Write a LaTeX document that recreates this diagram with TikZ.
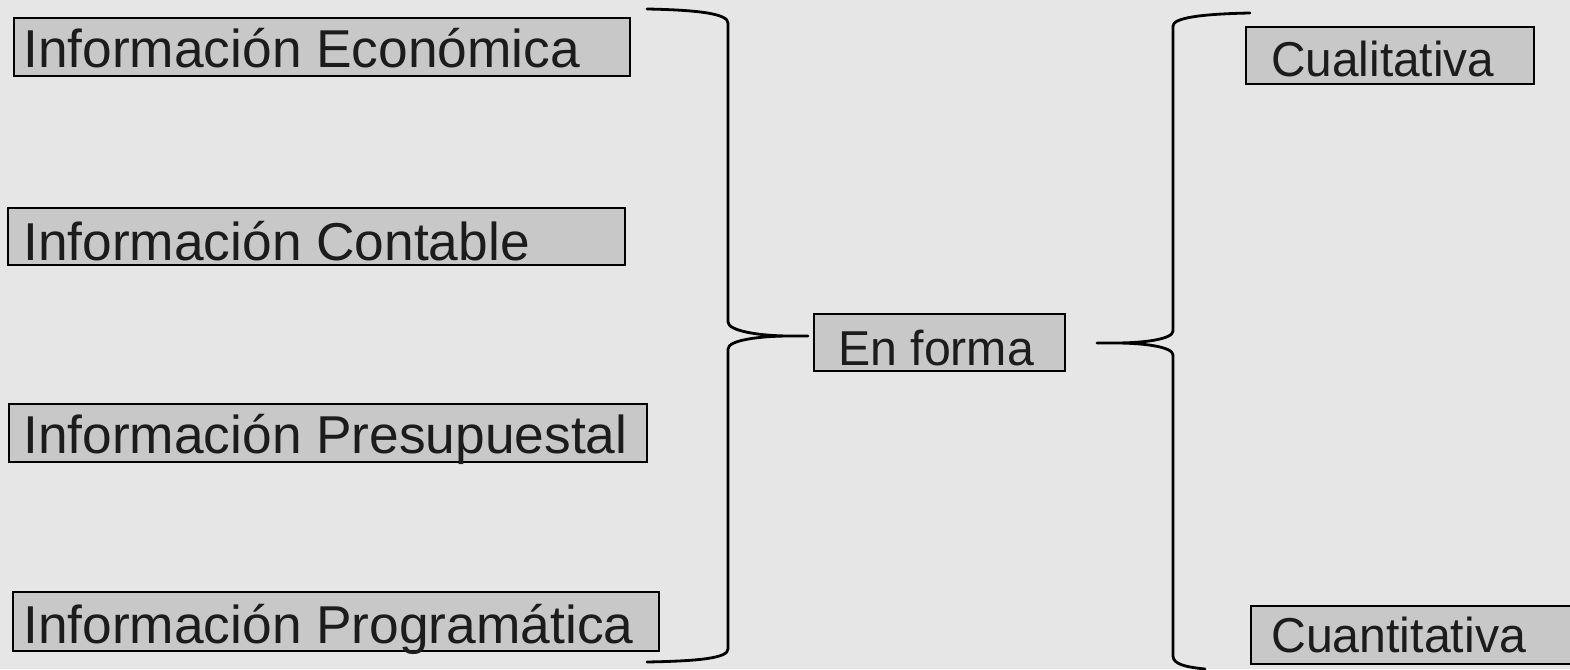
\documentclass[tikz,border=0pt]{standalone}
\usepackage{fontspec}
\setmainfont{Liberation Sans}
\definecolor{bg}{HTML}{E6E6E6}
\definecolor{boxgray}{HTML}{C8C8C8}
\definecolor{txt}{HTML}{1C1C1C}
\begin{document}
\begin{tikzpicture}[x=1pt,y=-1pt,
  box/.style={draw=black,line width=2.4pt,fill=boxgray,inner sep=0pt,anchor=north west},
  lbl/.style={anchor=base west,inner sep=0pt,text=txt,font=\fontsize{53.3}{60}\selectfont},
  rlbl/.style={anchor=base west,inner sep=0pt,text=txt,font=\fontsize{49}{56}\selectfont},
  bracestyle/.style={line width=2.8pt,line cap=round,line join=round}]
\fill[bg] (0,0) rectangle (1570,669);
\useasboundingbox (0,0) rectangle (1570,669);
% boxes
\node[box,minimum width=616pt,minimum height=58pt] (b1) at (13,17) {};
\node[box,minimum width=617pt,minimum height=57pt] (b2) at (7,207) {};
\node[box,minimum width=638pt,minimum height=58pt] (b3) at (8,403) {};
\node[box,minimum width=646pt,minimum height=59pt] (b4) at (12,591) {};
\node[box,minimum width=251pt,minimum height=57pt] (b5) at (813,313) {};
\node[box,minimum width=288pt,minimum height=57pt] (b6) at (1245,26) {};
\node[box,minimum width=330pt,minimum height=58pt] (b7) at (1250,605) {};
% labels
\node[lbl] (t1) at (23,67) {Información Económica};
\node[lbl] (t2) at (23,260) {Información Contable};
\node[lbl] (t3) at (23,453) {Información Presupuestal};
\node[lbl] (t4) at (23,643) {Información Programática};
\node[rlbl] (t5) at (838,365) {\scalebox{0.985}[1]{En forma}};
\node[rlbl] (t6) at (1271,77) {\scalebox{0.975}[1]{Cualitativa}};
\node[rlbl] (t7) at (1271,652) {\scalebox{0.985}[1]{Cuantitativa}};
% left brace
\coordinate (lt) at (647,9);
\coordinate (ltip) at (808,336);
\coordinate (lb) at (647,662);
\draw[bracestyle] (lt) .. controls (700,10) and (728,14) .. (728,23)
  -- (728,322) .. controls (728,331) and (760,336) .. (790,336) -- (ltip)
  -- (790,336) .. controls (760,336) and (728,340) .. (728,349)
  -- (728,649) .. controls (728,658) and (700,661) .. (lb);
% right brace
\coordinate (rt) at (1250,13);
\coordinate (rtip) at (1097,343);
\coordinate (rb) at (1205,669);
\draw[bracestyle] (rt) .. controls (1200,14) and (1173,18) .. (1173,26)
  -- (1173,331) .. controls (1173,339) and (1145,343) .. (1115,343) -- (rtip)
  -- (1115,343) .. controls (1145,343) and (1173,347) .. (1173,355)
  -- (1173,656) .. controls (1173,664) and (1185,667) .. (rb);
\end{tikzpicture}
\end{document}
